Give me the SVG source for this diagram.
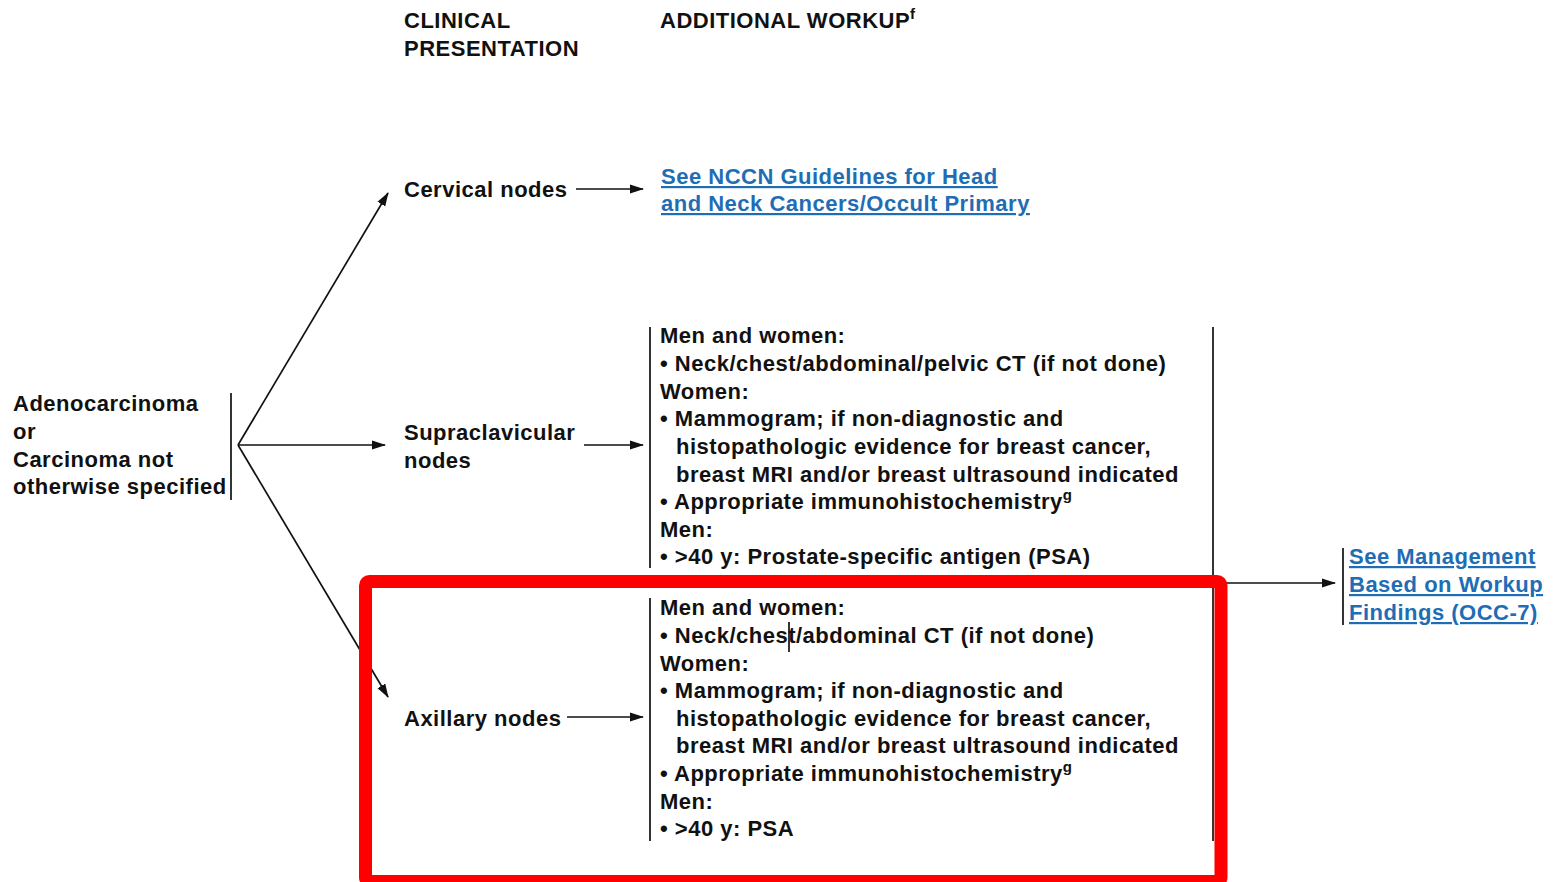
<svg xmlns="http://www.w3.org/2000/svg" width="1554" height="882" viewBox="0 0 1554 882">
<style>
text{font-family:"Liberation Sans",Arial,sans-serif;font-size:22px;letter-spacing:0.5px;font-weight:bold;fill:#111}
.lnk{fill:#1f6db5;text-decoration:underline}
.ln{stroke:#111;stroke-width:1.7;fill:none}
.ar{stroke:#111;stroke-width:1.7;fill:none;marker-end:url(#ah)}
.sup{font-size:15px;letter-spacing:0}
</style>
<defs>
<marker id="ah" markerWidth="14" markerHeight="10" refX="13" refY="5" orient="auto" markerUnits="userSpaceOnUse">
<path d="M0,0.5 L14,5 L0,9.5 z" fill="#111"/>
</marker>
</defs>
<rect width="1554" height="882" fill="#fff"/>
<g id="headers">
<text x="404" y="28">CLINICAL</text>
<text x="404" y="56">PRESENTATION</text>
<text x="660" y="28">ADDITIONAL WORKUP<tspan class="sup" dy="-9">f</tspan></text>
</g>
<g id="connectors">
<line class="ln" x1="231" y1="393" x2="231" y2="500"/>
<line class="ar" x1="238" y1="445" x2="388" y2="193"/>
<line class="ar" x1="238" y1="445" x2="385" y2="445"/>
<line class="ar" x1="238" y1="445" x2="388" y2="697"/>
<line class="ar" x1="576" y1="189" x2="643" y2="189"/>
<line class="ar" x1="584" y1="445" x2="643" y2="445"/>
<line class="ar" x1="567" y1="717" x2="643" y2="717"/>
<line class="ln" x1="650" y1="327" x2="650" y2="568"/>
<line class="ln" x1="650" y1="598" x2="650" y2="841"/>
<line class="ln" x1="1213" y1="327" x2="1213" y2="841"/>
<line class="ar" x1="1213" y1="583" x2="1335" y2="583"/>
<line class="ln" x1="1343" y1="548" x2="1343" y2="625"/>
</g>
<g id="start">
<text x="13" y="411">Adenocarcinoma</text>
<text x="13" y="439">or</text>
<text x="13" y="467">Carcinoma not</text>
<text x="13" y="494">otherwise specified</text>
</g>
<g id="cervical"><text x="404" y="197">Cervical nodes</text></g>
<g id="supraclavicular"><text x="404" y="440">Supraclavicular</text><text x="404" y="468">nodes</text></g>
<g id="axillary"><text x="404" y="726">Axillary nodes</text></g>
<g id="headneck">
<text class="lnk" x="661" y="184">See NCCN Guidelines for Head</text>
<text class="lnk" x="661" y="211">and Neck Cancers/Occult Primary</text>
</g>
<g id="workup-supra">
<text x="660" y="343">Men and women:</text>
<text x="660" y="371">• Neck/chest/abdominal/pelvic CT (if not done)</text>
<text x="660" y="399">Women:</text>
<text x="660" y="426">• Mammogram; if non-diagnostic and</text>
<text x="676" y="454">histopathologic evidence for breast cancer,</text>
<text x="676" y="482">breast MRI and/or breast ultrasound indicated</text>
<text x="660" y="509">• Appropriate immunohistochemistry<tspan class="sup" dy="-9">g</tspan></text>
<text x="660" y="537">Men:</text>
<text x="660" y="564">• &gt;40 y: Prostate-specific antigen (PSA)</text>
</g>
<g id="workup-axillary">
<text x="660" y="615">Men and women:</text>
<text x="660" y="643">• Neck/chest/abdominal CT (if not done)</text>
<line class="ln" x1="789" y1="622" x2="789" y2="652"/>
<text x="660" y="671">Women:</text>
<text x="660" y="698">• Mammogram; if non-diagnostic and</text>
<text x="676" y="726">histopathologic evidence for breast cancer,</text>
<text x="676" y="753">breast MRI and/or breast ultrasound indicated</text>
<text x="660" y="781">• Appropriate immunohistochemistry<tspan class="sup" dy="-9">g</tspan></text>
<text x="660" y="809">Men:</text>
<text x="660" y="836">• &gt;40 y: PSA</text>
</g>
<g id="management">
<text class="lnk" x="1349" y="564">See Management</text>
<text class="lnk" x="1349" y="592">Based on Workup</text>
<text class="lnk" x="1349" y="620">Findings (OCC-7)</text>
</g>
<g id="highlight">
<rect x="365.5" y="581.5" width="855.5" height="300" rx="4" fill="none" stroke="#ff0000" stroke-width="13"/>
</g>
</svg>
